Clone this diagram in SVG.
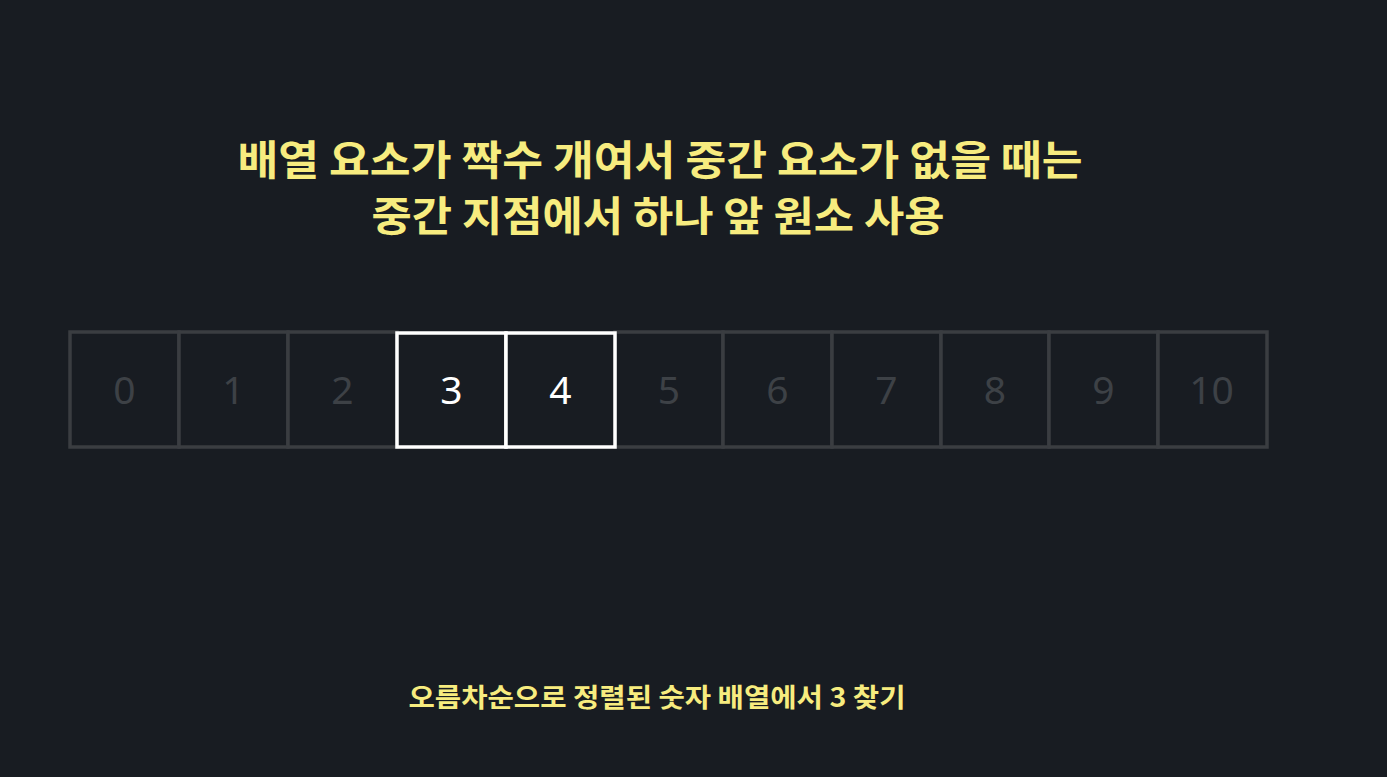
<svg xmlns="http://www.w3.org/2000/svg" width="1387" height="777" viewBox="0 0 1387 777">
<style>
.bg{fill:#181c22}
.cell{fill:#181c22;stroke:#3a3d41;stroke-width:3.5}
.hl{fill:#181c22;stroke:#ffffff;stroke-width:3.5}
.num{font-family:"Noto Sans","Open Sans",sans-serif;font-size:39px;text-anchor:middle;fill:#3d4146}
.numhl{fill:#ffffff}
.title{font-family:"Noto Sans CJK KR",sans-serif;font-weight:700;fill:#f7ec7f;text-anchor:middle}
</style>
<rect class="bg" x="0" y="0" width="1387" height="777"/>
<g id="title">
<text class="title" x="660" y="175" font-size="41" textLength="845" lengthAdjust="spacingAndGlyphs">배열 요소가 짝수 개여서 중간 요소가 없을 때는</text>
<text class="title" x="658" y="231" font-size="41" textLength="573" lengthAdjust="spacingAndGlyphs">중간 지점에서 하나 앞 원소 사용</text>
</g>
<g id="cell0"><rect class="cell" x="70" y="332" width="109" height="115"/><text class="num" x="124.5" y="404">0</text></g>
<g id="cell1"><rect class="cell" x="179" y="332" width="109" height="115"/><text class="num" x="233.5" y="404">1</text></g>
<g id="cell2"><rect class="cell" x="288" y="332" width="109" height="115"/><text class="num" x="342.5" y="404">2</text></g>
<g id="cell5"><rect class="cell" x="615" y="332" width="108" height="115"/><text class="num" x="669" y="404">5</text></g>
<g id="cell6"><rect class="cell" x="723" y="332" width="109" height="115"/><text class="num" x="777.5" y="404">6</text></g>
<g id="cell7"><rect class="cell" x="832" y="332" width="109" height="115"/><text class="num" x="886.5" y="404">7</text></g>
<g id="cell8"><rect class="cell" x="941" y="332" width="108" height="115"/><text class="num" x="995" y="404">8</text></g>
<g id="cell9"><rect class="cell" x="1049" y="332" width="109" height="115"/><text class="num" x="1103.5" y="404">9</text></g>
<g id="cell10"><rect class="cell" x="1158" y="332" width="109" height="115"/><text class="num" x="1211.5" y="404">10</text></g>
<g id="cell3"><rect class="hl" x="397" y="333" width="109" height="114"/><text class="num numhl" x="451.5" y="404">3</text></g>
<g id="cell4"><rect class="hl" x="506" y="333" width="109" height="114"/><text class="num numhl" x="560.5" y="404">4</text></g>
<g id="caption">
<text class="title" x="657" y="707" font-size="26.5" textLength="497" lengthAdjust="spacingAndGlyphs">오름차순으로 정렬된 숫자 배열에서 3 찾기</text>
</g>
</svg>
